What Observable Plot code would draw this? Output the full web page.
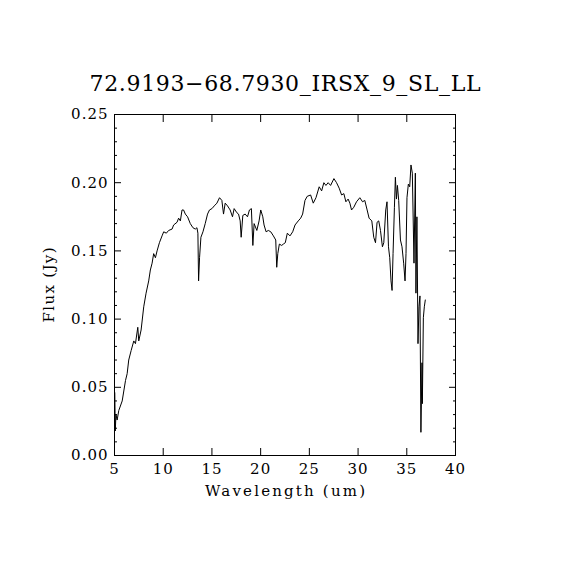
<!DOCTYPE html>
<html>
<head>
<meta charset="utf-8">
<script src="https://cdn.jsdelivr.net/npm/d3@7"></script>
<script src="https://cdn.jsdelivr.net/npm/@observablehq/plot@0.6"></script>
<style>
  html, body { margin: 0; padding: 0; background: #fff; }
  #chart svg { display: block; }
</style>
</head>
<body>
<div id="chart"></div>
<script>
const titleText = "72.9193\u221268.7930_IRSX_9_SL_LL";
const xLabel = "Wavelength (um)";
const yLabel = "Flux (Jy)";
const xTicks = [5, 10, 15, 20, 25, 30, 35, 40];
const yTicks = [0.00, 0.05, 0.10, 0.15, 0.20, 0.25];
const yMinorTicks = [0.01,0.02,0.03,0.04,0.06,0.07,0.08,0.09,0.11,0.12,0.13,0.14,0.16,0.17,0.18,0.19,0.21,0.22,0.23,0.24];

const wavelength = [
  5.03, 5.08, 5.15, 5.27, 5.44, 5.79, 6.13, 6.30, 6.46, 6.71, 6.98, 7.15, 7.39, 7.49, 7.73,
  8.00, 8.24, 8.51, 8.68, 8.86, 9.02, 9.20, 9.37, 9.61, 9.88, 10.05, 10.32, 10.56, 10.91, 11.07,
  11.42, 11.58, 11.76, 11.93, 12.09, 12.27, 12.50, 12.78, 13.05, 13.29, 13.46, 13.56, 13.63, 13.73, 13.87,
  14.08, 14.31, 14.55, 14.75, 15.00, 15.24, 15.51, 15.78, 16.02, 16.19, 16.36, 16.60, 16.87, 17.11, 17.28,
  17.56, 17.73, 17.90, 18.00, 18.17, 18.41, 18.65, 18.85, 19.05, 19.20, 19.33, 19.61, 19.84, 20.01, 20.22,
  20.35, 20.56, 20.79, 21.04, 21.31, 21.55, 21.65, 21.76, 21.92, 22.16, 22.33, 22.53, 22.74, 23.01,
  23.29, 23.53, 23.86, 24.11, 24.31, 24.55, 24.78, 25.13, 25.40, 25.68, 26.01, 26.26, 26.49, 26.70, 26.93,
  27.18, 27.52, 27.79, 28.06, 28.31, 28.54, 28.75, 28.98, 29.16, 29.33, 29.56, 29.84, 30.18, 30.46, 30.69,
  30.93, 31.13, 31.41, 31.61, 31.79, 31.95, 32.12, 32.30, 32.50, 32.64, 32.84, 32.97, 33.12, 33.25, 33.38,
  33.49, 33.59, 33.73, 33.83, 33.94, 34.04, 34.17, 34.35, 34.51, 34.68, 34.82, 34.92, 35.02, 35.16, 35.30,
  35.43, 35.57, 35.74, 35.88, 35.94, 36.04, 36.15, 36.25, 36.35, 36.45, 36.56, 36.60, 36.70, 36.80, 36.90
];
const flux = [
  0.046, 0.018, 0.030, 0.026, 0.033, 0.040, 0.055, 0.060, 0.070, 0.077, 0.084, 0.082, 0.094, 0.084, 0.092,
  0.109, 0.119, 0.128, 0.136, 0.141, 0.148, 0.145, 0.150, 0.156, 0.161, 0.164, 0.163, 0.165, 0.166, 0.169,
  0.171, 0.174, 0.172, 0.180, 0.180, 0.177, 0.175, 0.170, 0.167, 0.166, 0.167, 0.163, 0.128, 0.145, 0.160,
  0.164, 0.170, 0.177, 0.180, 0.181, 0.183, 0.185, 0.189, 0.187, 0.177, 0.185, 0.183, 0.180, 0.175, 0.181,
  0.178, 0.177, 0.172, 0.160, 0.176, 0.177, 0.175, 0.180, 0.181, 0.154, 0.170, 0.165, 0.172, 0.180, 0.175,
  0.169, 0.164, 0.165, 0.164, 0.161, 0.158, 0.138, 0.148, 0.155, 0.154, 0.155, 0.156, 0.163, 0.161,
  0.164, 0.169, 0.172, 0.174, 0.177, 0.187, 0.190, 0.191, 0.185, 0.189, 0.197, 0.194, 0.200, 0.198, 0.200,
  0.198, 0.203, 0.200, 0.196, 0.191, 0.192, 0.186, 0.188, 0.185, 0.180, 0.182, 0.186, 0.189, 0.186, 0.187,
  0.180, 0.174, 0.172, 0.160, 0.156, 0.171, 0.172, 0.165, 0.153, 0.156, 0.180, 0.186, 0.153, 0.145, 0.128,
  0.121, 0.148, 0.182, 0.204, 0.188, 0.198, 0.187, 0.158, 0.153, 0.141, 0.128, 0.148, 0.189, 0.199, 0.197,
  0.213, 0.207, 0.141, 0.207, 0.119, 0.175, 0.082, 0.109, 0.117, 0.017, 0.068, 0.038, 0.101, 0.109, 0.114
];

const spectrum = wavelength.map((w, i) => ({w, f: flux[i]}));
const font = "DejaVu Serif";

const chart = Plot.plot({
  width: 570,
  height: 570,
  marginLeft: 114,
  marginRight: 115,
  marginTop: 114,
  marginBottom: 115,
  style: {fontFamily: font, fontSize: "15px", color: "black", background: "white"},
  x: {domain: [5, 40]},
  y: {domain: [0, 0.25]},
  marks: [
    Plot.axisX({anchor: "bottom", ticks: xTicks, tickSize: -7, tickFormat: () => "", label: null}),
    Plot.axisX({anchor: "top", ticks: xTicks, tickSize: -7, tickFormat: () => "", label: null}),
    Plot.axisY({anchor: "left", ticks: yTicks, tickSize: -7, tickFormat: () => "", label: null}),
    Plot.axisY({anchor: "right", ticks: yTicks, tickSize: -7, tickFormat: () => "", label: null}),
    Plot.axisY({anchor: "left", ticks: yMinorTicks, tickSize: -3, tickFormat: () => "", label: null}),
    Plot.axisY({anchor: "right", ticks: yMinorTicks, tickSize: -3, tickFormat: () => "", label: null}),
    Plot.axisX({anchor: "bottom", ticks: xTicks, tickSize: 0, tickPadding: 8, tickFormat: d => String(d), label: null, fontSize: 15}),
    Plot.axisY({anchor: "left", ticks: yTicks, tickSize: 0, tickPadding: 6, tickFormat: d3.format(".2f"), label: null, fontSize: 15}),
    Plot.frame({stroke: "black", strokeWidth: 1}),
    Plot.line(spectrum, {x: "w", y: "f", stroke: "black", strokeWidth: 1}),
    Plot.text([titleText], {frameAnchor: "top", dy: -31, lineAnchor: "middle", fontSize: 22, text: d => d}),
    Plot.text([xLabel], {frameAnchor: "bottom", dy: 36, lineAnchor: "middle", fontSize: 15, text: d => d}),
    Plot.text([yLabel], {frameAnchor: "left", textAnchor: "middle", dx: -65, rotate: -90, lineAnchor: "middle", fontSize: 15, text: d => d})
  ]
});
document.getElementById("chart").appendChild(chart);

// stretch the label texts to the wide spacing of the original font
const widths = new Map([[titleText, 391], [xLabel, 160], [yLabel, 75]]);
chart.querySelectorAll("text").forEach(t => {
  const s = t.textContent;
  if (widths.has(s)) {
    t.setAttribute("textLength", widths.get(s));
    t.setAttribute("lengthAdjust", "spacing");
  } else if (/^\d+(\.\d+)?$/.test(s)) {
    t.setAttribute("letter-spacing", "1");
  }
});
</script>
</body>
</html>
